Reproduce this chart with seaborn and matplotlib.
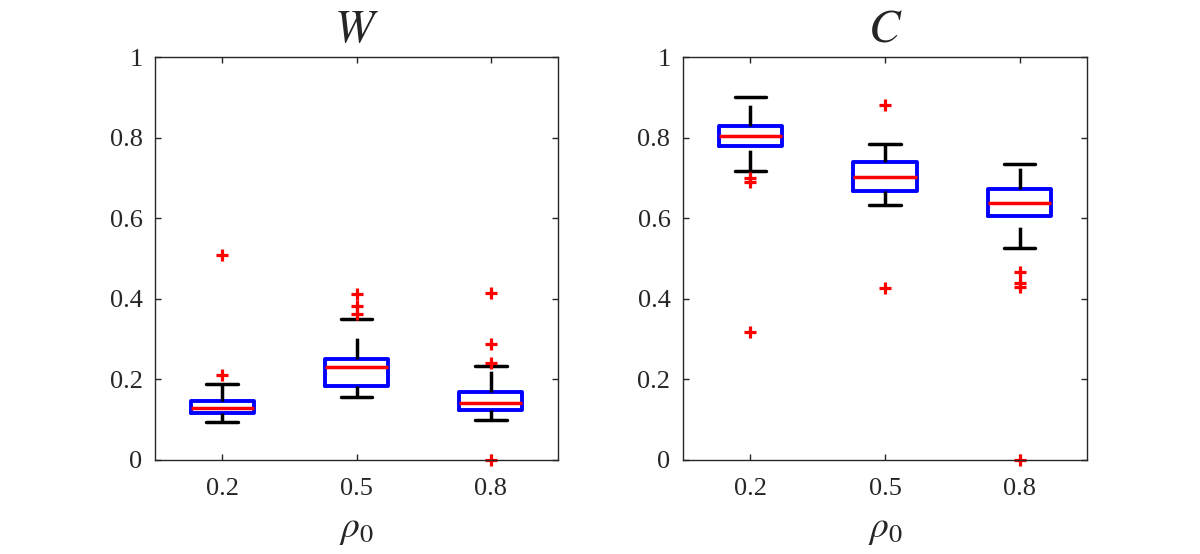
import matplotlib
matplotlib.use("Agg")
import matplotlib.pyplot as plt
import seaborn as sns
import pandas as pd

# categories on the x axis
rho_levels = ["0.2", "0.5", "0.8"]
yticks = [0, 0.2, 0.4, 0.6, 0.8, 1]
ytick_labels = ["0", "0.2", "0.4", "0.6", "0.8", "1"]

# samples
w_rho02 = [0.095, 0.105, 0.110, 0.114, 0.116, 0.120, 0.124, 0.127, 0.130,
           0.134, 0.138, 0.142, 0.146, 0.165, 0.189, 0.210, 0.508]
w_rho05 = [0.156, 0.165, 0.172, 0.178, 0.183, 0.190, 0.210, 0.225, 0.231,
           0.235, 0.240, 0.246, 0.251, 0.350, 0.363, 0.381, 0.413]
w_rho08 = [0.000, 0.100, 0.110, 0.120, 0.125, 0.130, 0.135, 0.139, 0.142,
           0.150, 0.157, 0.163, 0.169, 0.233, 0.240, 0.289, 0.415]

# samples
c_rho02 = [0.318, 0.690, 0.700, 0.717, 0.779, 0.785, 0.790, 0.797, 0.803,
           0.810, 0.815, 0.822, 0.830, 0.845, 0.865, 0.885, 0.901]
c_rho05 = [0.428, 0.633, 0.645, 0.655, 0.667, 0.677, 0.687, 0.695, 0.703,
           0.712, 0.720, 0.730, 0.739, 0.750, 0.765, 0.785, 0.881]
c_rho08 = [0.000, 0.430, 0.438, 0.467, 0.525, 0.606, 0.615, 0.622, 0.628,
           0.633, 0.637, 0.645, 0.652, 0.660, 0.667, 0.673, 0.680, 0.690,
           0.700, 0.715, 0.735]


def long_frame(groups):
    rows = []
    for lvl, vals in zip(rho_levels, groups):
        rows += [(lvl, v) for v in vals]
    return pd.DataFrame(rows, columns=["rho", "value"])


sns.set_style("ticks")
plt.rcParams["font.family"] = ["Liberation Serif", "DejaVu Serif"]
plt.rcParams["mathtext.fontset"] = "stix"
plt.rcParams["lines.scale_dashes"] = False

fig = plt.figure(figsize=(12, 5.54), dpi=100)
ax_w = fig.add_axes([155 / 1200, 94 / 554, 403 / 1200, 403 / 554])
ax_c = fig.add_axes([683 / 1200, 94 / 554, 404 / 1200, 403 / 554])

panels = [(ax_w, [w_rho02, w_rho05, w_rho08], r"$W$"),
          (ax_c, [c_rho02, c_rho05, c_rho08], r"$C$")]

for ax, groups, title in panels:
    df = long_frame(groups)
    sns.boxplot(data=df, x="rho", y="value", order=rho_levels, ax=ax,
                width=0.47, fill=False, whis=1.5,
                boxprops=dict(color=(0, 0, 1), linewidth=2.8),
                medianprops=dict(color=(1, 0, 0), linewidth=2.5),
                whiskerprops=dict(color="black", linewidth=2.5,
                                  linestyle=(0, (15, 16))),
                capprops=dict(color="black", linewidth=2.5),
                flierprops=dict(marker="+", markeredgecolor=(1, 0, 0),
                                markersize=9, markeredgewidth=2.3))

    # MATLAB draws the lower whisker from the cap up to the box
    for cont in ax.containers:
        for wl in getattr(cont, "whiskers", []):
            x, y = wl.get_data()
            if y[1] < y[0]:
                wl.set_data(list(x)[::-1], list(y)[::-1])
    for ln in ax.lines:
        ln.set_clip_on(False)

    ax.set_xlim(-0.5, 2.5)
    ax.set_ylim(0, 1)
    ax.set_yticks(yticks)
    ax.set_yticklabels(ytick_labels)
    ax.set_title(title, fontsize=34, pad=11)
    ax.set_xlabel(r"$\rho_0$", fontsize=27, labelpad=9)
    ax.set_ylabel("")
    ax.tick_params(direction="in", length=4, width=1, labelsize=19,
                   top=True, right=True, color="#262626", labelcolor="#262626")
    ax.tick_params(axis="x", pad=13)
    ax.tick_params(axis="y", pad=9)
    for sp in ax.spines.values():
        sp.set_visible(True)
        sp.set_linewidth(1.0)
        sp.set_color("#262626")

fig.savefig("out.png", dpi=100)
